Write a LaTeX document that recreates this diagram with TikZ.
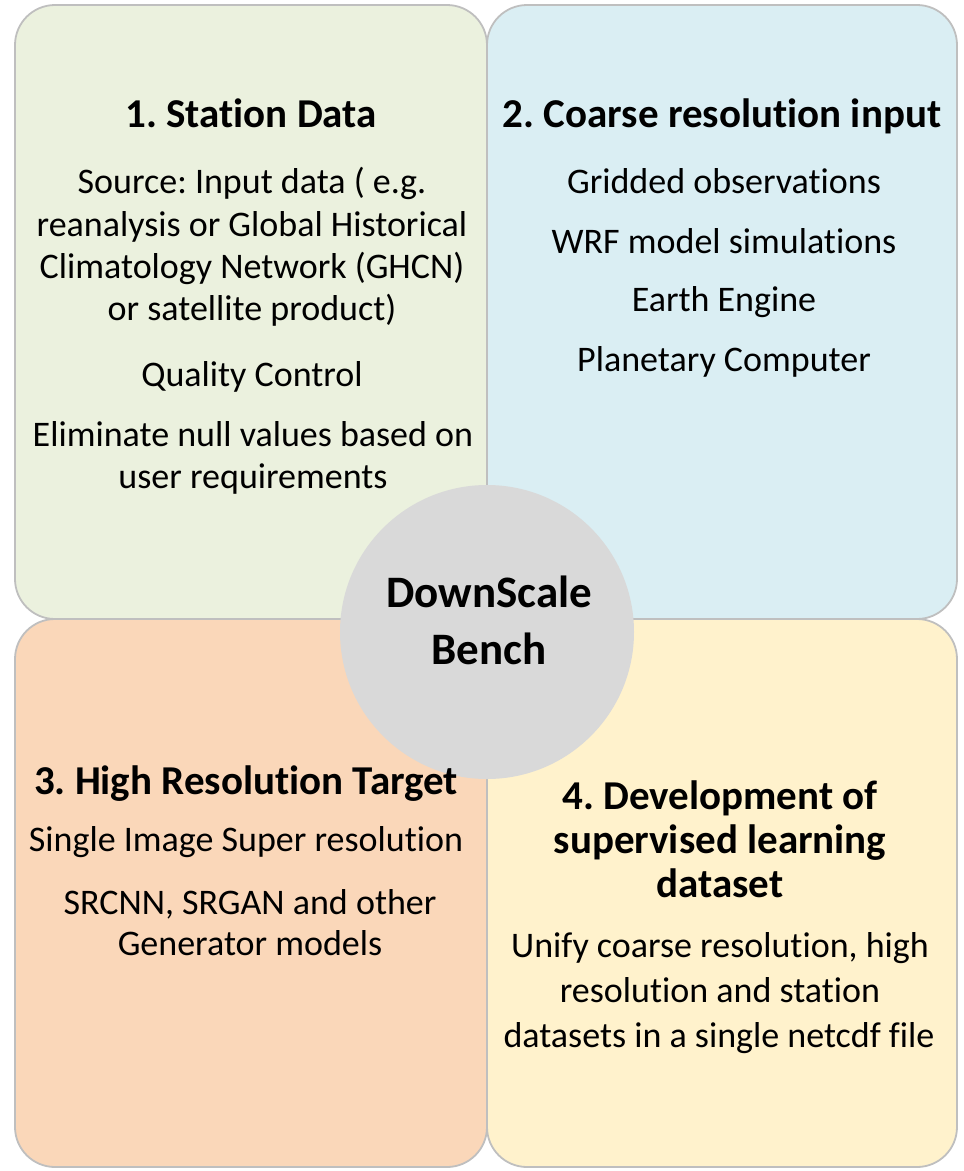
\documentclass[tikz,border=0pt]{standalone}
\usepackage{fontspec}
\setmainfont[Ligatures=NoCommon]{Carlito}
\frenchspacing
\definecolor{boxgreen}{HTML}{EBF1DE}
\definecolor{boxblue}{HTML}{DAEEF3}
\definecolor{boxpeach}{HTML}{FAD7B9}
\definecolor{boxyellow}{HTML}{FFF2CC}
\definecolor{circgray}{HTML}{D9D9D9}
\definecolor{edgegray}{HTML}{BFBFBF}
\tikzset{
  quad/.style={draw=edgegray, line width=1.8pt, rounded corners=40pt},
  headtxt/.style={anchor=base, inner sep=0pt, font=\fontsize{41}{45}\selectfont\bfseries},
  bodytxt/.style={anchor=base, inner sep=0pt, font=\fontsize{36}{42}\selectfont},
  hubtxt/.style={anchor=base, inner sep=0pt, font=\fontsize{45}{50}\selectfont\bfseries},
}
\begin{document}
\begin{tikzpicture}[x=1pt,y=-1pt]
\useasboundingbox (0,0) rectangle (964,1171);
% quadrants
\filldraw[quad, fill=boxgreen] (15,5) rectangle (487,619);
\filldraw[quad, fill=boxblue] (487,5) rectangle (957,619);
\filldraw[quad, fill=boxpeach] (15,619) rectangle (487,1167);
\filldraw[quad, fill=boxyellow] (487,619) rectangle (957,1167);
% hub
\node[circle, fill=circgray, minimum size=294pt, inner sep=0pt] (hub) at (487,632) {};
\node[hubtxt] (hubA) at (489,607) {DownScale};
\node[hubtxt] (hubB) at (489,664) {Bench};
% box 1
\node[headtxt] (t1) at (251,127) {1. Station Data};
\node[bodytxt] (a1) at (252,193) {Source: Input data ( e.g.};
\node[bodytxt] (a2) at (252,236) {reanalysis or Global Historical};
\node[bodytxt] (a3) at (252,278) {Climatology Network (GHCN)};
\node[bodytxt] (a4) at (252,320) {or satellite product)};
\node[bodytxt] (a5) at (252,386) {Quality Control};
\node[bodytxt] (a6) at (253,446) {Eliminate null values based on};
\node[bodytxt] (a7) at (253,488) {user requirements};
% box 2
\node[headtxt] (t2) at (722,127) {2. Coarse resolution input};
\node[bodytxt] (b1) at (724,193) {Gridded observations};
\node[bodytxt] (b2) at (724,253) {WRF model simulations};
\node[bodytxt] (b3) at (724,311) {Earth Engine};
\node[bodytxt] (b4) at (724,371) {Planetary Computer};
% box 3
\node[headtxt] (t3) at (246,794) {3. High Resolution Target};
\node[bodytxt] (c1) at (246,851) {Single Image Super resolution};
\node[bodytxt] (c2) at (250,914) {SRCNN, SRGAN and other};
\node[bodytxt] (c3) at (250,955) {Generator models};
% box 4
\node[headtxt] (t4a) at (720,809) {4. Development of};
\node[headtxt] (t4b) at (720,853) {supervised learning};
\node[headtxt] (t4c) at (720,897) {dataset};
\node[bodytxt] (d1) at (720,957) {Unify coarse resolution, high};
\node[bodytxt] (d2) at (720,1002) {resolution and station};
\node[bodytxt] (d3) at (719,1047) {datasets in a single netcdf file};
\end{tikzpicture}
\end{document}
